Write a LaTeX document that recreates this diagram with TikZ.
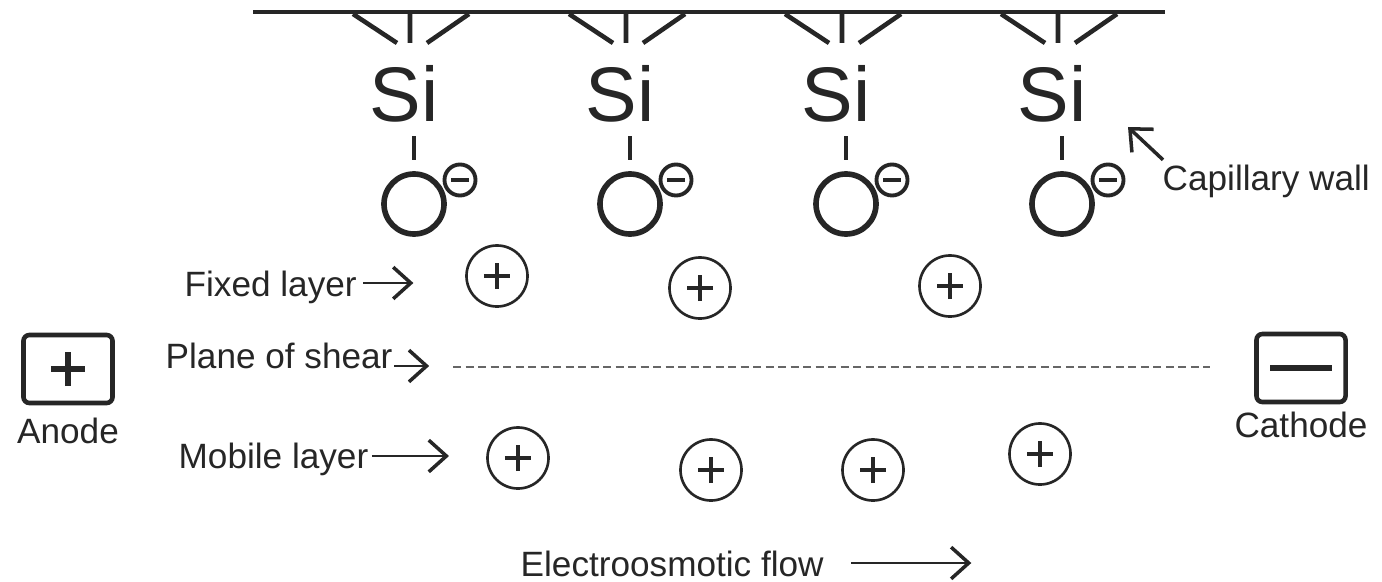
\documentclass[tikz,border=0pt]{standalone}
\usepackage{fontspec}
\setmainfont{Liberation Sans}
\usetikzlibrary{arrows.meta,positioning}

\begin{document}
\begin{tikzpicture}[x=0.01cm,y=-0.01cm,>={Straight Barb[length=5pt,width=9pt,line width=1pt]},
  lbl/.style={inner sep=0pt,text=black!85,font=\fontsize{10}{12}\selectfont},
  si/.style={inner sep=0pt,text=black!85,font=\fontsize{22}{26}\selectfont},
  oxy/.style={circle,draw=black!85,line width=1.6pt,minimum size=0.6cm,inner sep=0pt},
  neg/.style={circle,draw=black!85,line width=1.1pt,minimum size=0.31cm,inner sep=0pt,
    path picture={\draw[line width=1.1pt] ([xshift=-0.09cm]path picture bounding box.center)
      -- ([xshift=0.09cm]path picture bounding box.center);}},
  ion/.style={circle,draw=black!85,line width=0.75pt,minimum size=0.61cm,inner sep=0pt,
    path picture={\draw[line width=1.1pt] ([xshift=-0.13cm]path picture bounding box.center)
      -- ([xshift=0.13cm]path picture bounding box.center)
      ([yshift=-0.13cm]path picture bounding box.center)
      -- ([yshift=0.13cm]path picture bounding box.center);}},
  pole/.style={draw=black!85,line width=1.3pt,rounded corners=0.06cm,minimum width=0.89cm,minimum height=0.68cm},
  bond/.style={draw=black!85,line width=1.3pt},
  pointer/.style={->,draw=black!85,line width=0.8pt}]
\useasboundingbox (0,0) rectangle (1382,582);
\draw[bond] (253,12) -- (1165,12);
\foreach \x [count=\i] in {410,626,842,1058}{
  \draw[bond] (\x-57,14) -- (\x-13,43) (\x,14) -- (\x,43) (\x+59,14) -- (\x+17,43);
  \node[si,anchor=base] (si\i) at (\x-6,122) {Si};
  \node[oxy] (o\i) at (\x+4,204) {};
  \node[neg] (n\i) at (\x+50,180) {};
  \draw[bond,shorten <=0.13cm,shorten >=0.11cm] (o\i.north |- si\i.south) -- (o\i.north);
}
\node[lbl,anchor=base west] (cap) at (1162,191) {Capillary wall};
\coordinate (wall) at (1128,127);
\draw[pointer,line width=1pt] ([shift={(1,-5)}]cap.north west) -- (wall);
\node[lbl,anchor=base west] (fixed) at (184,296) {Fixed layer};
\draw[pointer] ([shift={(6,-13)}]fixed.base east) -- ++(50,0);
\foreach \x/\y [count=\i] in {497/276,700/288,950/286}
  \node[ion] (f\i) at (\x,\y) {};
\node[lbl,anchor=base west] (shear) at (165,368) {Plane of shear};
\draw[pointer] ([shift={(1,-2)}]shear.base east) -- ++(35,0);
\draw[black!60,line width=0.4pt,dash pattern=on 0.08cm off 0.045cm] (453,367) -- (1210,367);
\node[lbl,anchor=base west] (mobile) at (178,468) {Mobile layer};
\draw[pointer] ([shift={(3,-12)}]mobile.base east) -- ++(77,0);
\foreach \x/\y [count=\i] in {518/458,711/470,873/470,1040/454}
  \node[ion] (m\i) at (\x,\y) {};
\node[pole] (anode) at (68,369) {};
\draw[line width=1.5pt,black!85] ([xshift=-0.17cm]anode.center) -- ([xshift=0.17cm]anode.center)
  ([yshift=-0.17cm]anode.center) -- ([yshift=0.17cm]anode.center);
\node[lbl,below=0.12cm of anode] (anodelbl) {Anode};
\node[pole] (cathode) at (1301,368) {};
\draw[line width=1.9pt,black!85] ([xshift=-0.31cm]cathode.center) -- ([xshift=0.31cm]cathode.center);
\node[lbl,below=0.07cm of cathode] (cathodelbl) {Cathode};
\node[lbl,anchor=base west] (eof) at (520,576) {Electroosmotic flow};
\draw[pointer] ([shift={(27,-13)}]eof.base east) -- ++(120,0);
\end{tikzpicture}
\end{document}
